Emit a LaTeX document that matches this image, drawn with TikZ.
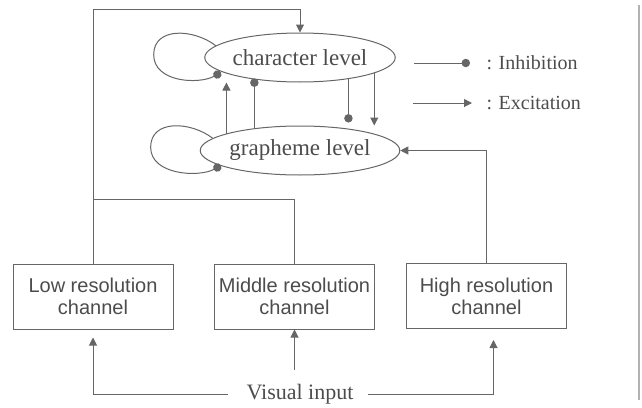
\documentclass[tikz,border=0pt]{standalone}
\usepackage{fontspec}
\setmainfont{Liberation Serif}
\newfontfamily\boxfont{Liberation Sans}
\usetikzlibrary{arrows.meta,shapes.geometric,calc}
\definecolor{linegray}{gray}{0.40}
\definecolor{textgray}{gray}{0.30}
\tikzset{
	lvl/.style={draw=linegray, ellipse, minimum width=82pt, minimum height=24.5pt,
		inner sep=0pt, text=textgray, font=\fontsize{11.5}{13}\selectfont},
	channel/.style={draw=linegray, rectangle, minimum width=80pt, minimum height=32.5pt,
		inner sep=0pt, align=center, text=textgray, font=\boxfont\fontsize{10}{11}\selectfont},
	legtxt/.style={text=textgray, inner sep=2pt, font=\fontsize{10}{12}\selectfont},
	exc/.style={draw=linegray, -{Triangle[length=4pt,width=4pt]}, color=linegray},
	inh/.style={draw=linegray, -{Circle[length=4.2pt]}, color=linegray}
}
\begin{document}
\begin{tikzpicture}[x=0.5pt, y=-0.5pt, line width=0.5pt]
	\useasboundingbox (0,0) rectangle (642,407);
	% LEVELS
	\node[lvl] (char) at (300,57.5) {character level};
	\node[lvl] (graph) at (300,150.5) {grapheme level};
	
	% CHANNELS
	\node[channel] (low) at (93,296.5) {Low resolution\\channel};
	\node[channel] (mid) at (294.5,296.5) {Middle resolution\\channel};
	\node[channel] (high) at (486.5,296) {High resolution\\channel};
	\node[text=textgray, inner sep=1pt, font=\fontsize{11}{13}\selectfont] (vis) at (300,394) {Visual input};
	
	% LEGEND
	\node[legtxt, anchor=west] (inhtxt) at (482,63) {: Inhibition};
	\node[legtxt, anchor=west] (exctxt) at (482,103) {: Excitation};
	\coordinate (inhl) at (414,63);
	\coordinate (excl) at (413,103);
	\draw[inh] (inhl) -- ([xshift=-6pt]inhtxt.west);
	\draw[exc] (excl) -- ([xshift=-5pt]exctxt.west);
	
	% SELF LOOPS
	\draw[inh] (char.172) .. controls +(-22,-17) and +(0,-28) .. ++(-62,9)
		.. controls +(0,28) and +(-22,12) .. ($(char.center)+(-79,15)$);
	\draw[inh] (graph.172) .. controls +(-22,-17) and +(0,-28) .. ++(-62,9)
		.. controls +(0,28) and +(-22,12) .. ($(graph.center)+(-79,15)$);
	
	% BETWEEN LEVELS
	\draw[exc] (graph.167) -- (graph.167 |- char.south);
	\draw[inh] (graph.154) -- ([yshift=2pt]graph.154 |- char.south);
	\draw[inh] (char.336) -- ([yshift=1.5pt]char.336 |- graph.north);
	\draw[exc] (char.348) -- (char.348 |- graph.north);
	
	% CHANNELS TO LEVELS
	\draw[exc] (low.north) |- ([yshift=11.75pt]char.north) -- (char.north);
	\draw[linegray] (mid.north) -- ++(0,-64) -| (low.north);
	\draw[exc] (high.north) |- (graph.east);
	
	% VISUAL INPUT
	\draw[exc, shorten <=8pt, shorten >=4pt] (vis.west) -| (low.south);
	\draw[exc, shorten <=6pt] (vis.north -| mid.south) -- (mid.south);
	\draw[exc, shorten <=6pt, shorten >=5.5pt] (vis.east) -| ([xshift=3.5pt]high.south);
	
	% RIGHT EDGE
	\draw[black!30, line width=1pt] (639,5) -- (639,400);
\end{tikzpicture}
\end{document}
